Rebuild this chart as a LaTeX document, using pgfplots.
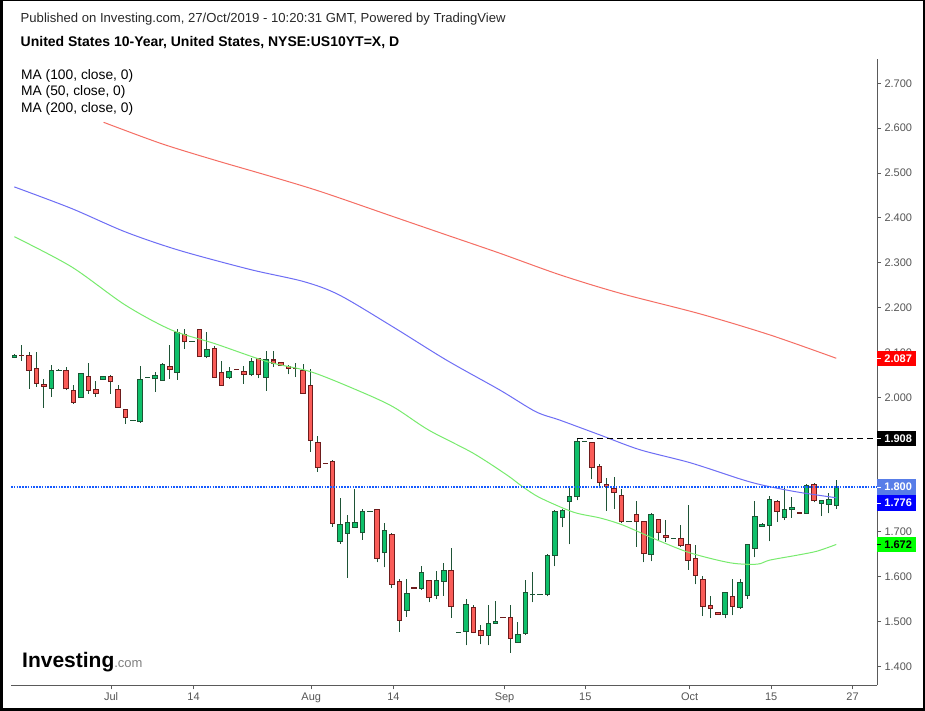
\documentclass[border=0pt]{standalone}
\usepackage{pgfplots}
\pgfplotsset{compat=1.18}
\usepackage{pgfplotstable}
\usepackage{fontspec}
\setmainfont{Liberation Sans}

\definecolor{gfill}{RGB}{14,192,106}
\definecolor{gbord}{RGB}{28,84,52}
\definecolor{rfill}{RGB}{250,92,88}
\definecolor{rbord}{RGB}{110,28,28}
\definecolor{wick}{RGB}{30,84,54}
\definecolor{maA}{RGB}{110,110,245}
\definecolor{maB}{RGB}{120,235,110}
\definecolor{maC}{RGB}{245,110,100}
\definecolor{pline}{RGB}{20,90,255}
\definecolor{pbox}{RGB}{88,125,232}
\definecolor{axgray}{RGB}{90,90,90}
\definecolor{lblgray}{RGB}{85,85,85}
\definecolor{headgray}{RGB}{40,40,40}
\definecolor{lime}{RGB}{0,255,0}

% green (rising) candles: i open high low close
\pgfplotstableread{
i O H L C
0 2.089 2.097 2.088 2.094
5 2.020 2.072 2.001 2.060
6 2.060 2.062 2.059 2.060
9 2.000 2.054 1.999 2.052
12 2.040 2.047 2.040 2.047
16 1.949 1.949 1.949 1.949
17 1.946 2.070 1.943 2.040
18 2.045 2.045 2.045 2.045
19 2.041 2.056 2.012 2.049
20 2.038 2.076 2.037 2.074
22 2.056 2.152 2.039 2.145
24 2.125 2.125 2.125 2.125
26 2.091 2.145 2.087 2.107
29 2.045 2.067 2.040 2.058
32 2.051 2.087 2.047 2.080
34 2.045 2.103 2.015 2.085
44 1.678 1.775 1.674 1.717
45 1.697 1.738 1.598 1.721
46 1.710 1.796 1.708 1.721
47 1.698 1.750 1.682 1.746
48 1.746 1.746 1.746 1.746
50 1.654 1.719 1.621 1.703
53 1.525 1.594 1.511 1.563
55 1.574 1.625 1.570 1.610
57 1.558 1.613 1.550 1.592
58 1.590 1.630 1.558 1.614
60 1.476 1.476 1.476 1.476
61 1.478 1.550 1.447 1.538
64 1.469 1.536 1.447 1.496
65 1.496 1.545 1.496 1.500
68 1.454 1.500 1.454 1.471
69 1.474 1.592 1.471 1.565
70 1.561 1.610 1.543 1.561
71 1.561 1.561 1.561 1.561
72 1.561 1.650 1.556 1.648
73 1.648 1.748 1.623 1.746
74 1.732 1.752 1.710 1.748
75 1.768 1.799 1.672 1.779
76 1.779 1.908 1.770 1.902
77 1.902 1.902 1.902 1.902
83 1.723 1.723 1.723 1.723
86 1.650 1.741 1.634 1.739
89 1.686 1.686 1.686 1.686
96 1.516 1.567 1.507 1.565
98 1.532 1.594 1.529 1.588
99 1.558 1.672 1.550 1.672
100 1.663 1.768 1.643 1.735
101 1.712 1.719 1.712 1.717
102 1.715 1.779 1.679 1.773
104 1.732 1.802 1.726 1.750
105 1.750 1.777 1.732 1.755
107 1.741 1.806 1.741 1.804
109 1.764 1.770 1.735 1.770
110 1.761 1.786 1.741 1.773
111 1.759 1.815 1.752 1.800
}\greens

% red (falling) candles: i open high low close
\pgfplotstableread{
i O H L C
1 2.094 2.117 2.082 2.094
2 2.094 2.100 2.019 2.060
3 2.065 2.100 2.024 2.031
4 2.029 2.040 1.977 2.025
7 2.060 2.067 2.016 2.019
8 2.016 2.027 1.986 1.989
10 2.047 2.076 2.008 2.016
11 2.018 2.036 2.001 2.009
13 2.047 2.049 2.008 2.035
14 2.018 2.027 1.978 1.978
15 1.973 1.973 1.941 1.955
21 2.069 2.117 2.041 2.062
23 2.139 2.152 2.108 2.124
25 2.152 2.152 2.091 2.091
27 2.109 2.114 2.045 2.045
28 2.056 2.080 2.027 2.027
30 2.062 2.062 2.062 2.062
31 2.058 2.069 2.030 2.051
33 2.087 2.087 2.042 2.051
35 2.083 2.103 2.067 2.076
36 2.078 2.078 2.071 2.071
37 2.069 2.071 2.051 2.065
38 2.064 2.076 2.045 2.064
39 2.060 2.074 2.009 2.009
40 2.027 2.062 1.879 1.904
41 1.900 1.913 1.834 1.844
42 1.853 1.853 1.853 1.853
43 1.857 1.860 1.711 1.719
49 1.750 1.750 1.632 1.641
51 1.695 1.697 1.575 1.583
52 1.590 1.594 1.477 1.503
54 1.575 1.575 1.575 1.575
56 1.592 1.592 1.543 1.554
59 1.614 1.663 1.509 1.534
62 1.532 1.538 1.474 1.476
63 1.480 1.492 1.449 1.469
66 1.509 1.509 1.509 1.509
67 1.509 1.538 1.431 1.463
78 1.900 1.900 1.817 1.844
79 1.846 1.851 1.797 1.810
80 1.806 1.819 1.747 1.802
81 1.797 1.822 1.752 1.788
82 1.781 1.795 1.719 1.723
84 1.739 1.768 1.667 1.723
85 1.723 1.723 1.632 1.652
87 1.728 1.728 1.679 1.699
88 1.692 1.726 1.677 1.688
90 1.686 1.715 1.666 1.670
91 1.672 1.759 1.616 1.637
92 1.641 1.670 1.583 1.603
93 1.594 1.601 1.512 1.534
94 1.536 1.556 1.509 1.529
95 1.521 1.521 1.516 1.516
97 1.556 1.594 1.514 1.534
103 1.768 1.770 1.723 1.746
106 1.742 1.742 1.742 1.742
108 1.806 1.810 1.766 1.770
}\reds

\pgfplotstableread{
x v
12.06 2.613
19.77 2.566
27.01 2.529
34.72 2.492
41.47 2.458
51.13 2.403
58.35 2.362
65.59 2.321
73.69 2.273
81.8 2.232
92.6 2.186
102.05 2.139
111 2.087
}\maTwoHundred

\pgfplotstableread{
x v
0 2.469
7.71 2.421
14.95 2.369
22.19 2.328
31.83 2.285
39.07 2.258
43.89 2.228
51.13 2.157
58.35 2.083
65.59 2.016
70.41 1.968
73.69 1.949
79.1 1.916
84.5 1.883
91.3 1.854
98.0 1.818
101.1 1.804
105.7 1.789
111 1.776
}\maHundred

\pgfplotstableread{
x v
0 2.358
7.71 2.291
14.95 2.206
21.22 2.150
27.01 2.120
34.25 2.079
40.03 2.057
46.28 2.016
51.13 1.979
55.95 1.927
61.9 1.876
66.5 1.827
68.7 1.800
71.0 1.776
75.5 1.744
79.1 1.731
82.2 1.715
86.8 1.682
91.3 1.653
96.7 1.631
100.3 1.628
102.0 1.637
105.7 1.648
108.4 1.657
111 1.672
}\maFifty

\pgfplotsset{
  wickplot/.style={forget plot, draw=none, mark=none,
    error bars/y dir=plus, error bars/y explicit, error bars/error mark=none,
    error bars/error bar style={draw=wick, line width=1pt}},
  bodyplot/.style={forget plot, draw=none, mark=none,
    error bars/y dir=plus, error bars/y explicit, error bars/error mark=none,
    error bars/error bar style={draw=#1, line width=5.5pt}},
  fillplot/.style={forget plot, draw=none, mark=none,
    error bars/y dir=plus, error bars/y explicit, error bars/error mark=none,
    error bars/error bar style={draw=#1, line width=3.5pt}},
}

\begin{document}
\begin{tikzpicture}[x=1pt,y=1pt]
\path[use as bounding box] (0,0) rectangle (925,711);
\fill[white] (0,0) rectangle (925,711);
\begin{axis}[
  at={(11pt,25.7pt)}, anchor=south west,
  scale only axis, width=866pt, height=626pt,
  xmin=-0.45, xmax=116.5, ymin=1.358, ymax=2.7535,
  axis x line*=bottom, axis y line*=right,
  xtick pos=bottom, ytick pos=right, yticklabel pos=right,
  axis line style={-, draw=axgray, line width=0.8pt},
  tick style={draw=axgray, line width=0.8pt},
  tick align=outside, major tick length=4pt,
  xtick={13.06,24.2,40.1,51.2,66.2,77.1,91.2,102.2,113.2},
  xticklabels={Jul,14,Aug,14,Sep,15,Oct,15,27},
  ytick={1.4,1.5,1.6,1.7,1.8,1.9,2.0,2.1,2.2,2.3,2.4,2.5,2.6,2.7},
  yticklabels={1.400,1.500,1.600,1.700,,,2.000,2.100,2.200,2.300,2.400,2.500,2.600,2.700},
  ticklabel style={font=\fontsize{11}{13}\selectfont, text=lblgray},
  clip=false,
]
% wicks
\addplot[wickplot] table[x=i, y=L, y error expr={\thisrow{H}-\thisrow{L}}] {\greens};
\addplot[wickplot] table[x=i, y=L, y error expr={\thisrow{H}-\thisrow{L}}] {\reds};
% green bodies (open below close)
\addplot[bodyplot=gbord] table[x=i, y expr={\thisrow{O}-0.0013}, y error expr={\thisrow{C}-\thisrow{O}+0.0026}] {\greens};
\addplot[fillplot=gfill] table[x=i, y expr={\thisrow{O}+0.0011}, y error expr={max(\thisrow{C}-\thisrow{O}-0.0022,0)}] {\greens};
% red bodies (close below open)
\addplot[bodyplot=rbord] table[x=i, y expr={\thisrow{C}-0.0013}, y error expr={\thisrow{O}-\thisrow{C}+0.0026}] {\reds};
\addplot[fillplot=rfill] table[x=i, y expr={\thisrow{C}+0.0011}, y error expr={max(\thisrow{O}-\thisrow{C}-0.0022,0)}] {\reds};
% moving averages
\addplot[color=maC, line width=1pt, mark=none, smooth] table[x=x, y=v] {\maTwoHundred};
\addplot[color=maA, line width=1pt, mark=none, smooth] table[x=x, y=v] {\maHundred};
\addplot[color=maB, line width=1pt, mark=none, smooth] table[x=x, y=v] {\maFifty};
% price lines
\addplot[draw=pline, line width=1.2pt, dash pattern=on 1.6pt off 1.2pt] coordinates {(-0.45,1.800) (116.5,1.800)};
\addplot[draw=black, line width=1pt, dash pattern=on 6pt off 4pt] coordinates {(76,1.908) (116.5,1.908)};
\coordinate (b1) at (axis cs:116.5,2.087);
\coordinate (b2) at (axis cs:116.5,1.908);
\coordinate (b3) at (axis cs:116.5,1.800);
\coordinate (b4) at (axis cs:116.5,1.776);
\coordinate (b5) at (axis cs:116.5,1.672);
\end{axis}
\tikzset{pb/.style={anchor=west, minimum width=39pt, minimum height=15.5pt, inner sep=0pt, font=\fontsize{11}{13}\selectfont\bfseries}}
\node[pb, fill=red, text=white] at (b1) {\hspace*{3pt}2.087};
\node[pb, fill=black, text=white] at (b2) {\hspace*{3pt}1.908};
\node[pb, fill=pbox, text=white] at (b3) {\hspace*{3pt}1.800};
\node[pb, fill=blue, text=white] at ([yshift=-5.2pt]b4) {\hspace*{3pt}1.776};
\node[pb, fill=lime, text=black] at (b5) {\hspace*{3pt}1.672};
\draw[white, line width=0.8pt] (b1) -- ++(4,0);
\draw[white, line width=0.8pt] (b2) -- ++(4,0);
\draw[white, line width=0.8pt] (b3) -- ++(4,0);
\draw[white, line width=0.8pt] ([yshift=-5.2pt]b4) -- ++(4,0);
\draw[black, line width=0.8pt] (b5) -- ++(4,0);
% header
\node[anchor=base west, inner sep=0pt, text=headgray] at (20.5,688) {\fontsize{13.1}{15}\selectfont Published on Investing.com, 27/Oct/2019 - 10:20:31 GMT, Powered by TradingView};
\node[anchor=base west, inner sep=0pt] at (20.5,664.5) {\fontsize{14}{16}\selectfont\bfseries United States 10-Year, United States, NYSE:US10YT=X, D};
\node[anchor=base west, inner sep=0pt] at (21,631.5) {\fontsize{13.8}{15}\selectfont MA (100, close, 0)};
\node[anchor=base west, inner sep=0pt] at (21,615) {\fontsize{13.8}{15}\selectfont MA (50, close, 0)};
\node[anchor=base west, inner sep=0pt] at (21,598.5) {\fontsize{13.8}{15}\selectfont MA (200, close, 0)};
% logo
\node[anchor=base west, inner sep=0pt] at (22,43) {{\fontsize{21}{21}\selectfont\bfseries Investing}{\fontsize{13}{13}\selectfont\color{gray}.com}};
% frame
\fill[black] (0,0) rectangle (2.7,711);
\fill[black] (922.5,0) rectangle (925,711);
\fill[black] (0,0) rectangle (925,2.7);
\fill[black] (0,710) rectangle (925,711);
\end{tikzpicture}
\end{document}
